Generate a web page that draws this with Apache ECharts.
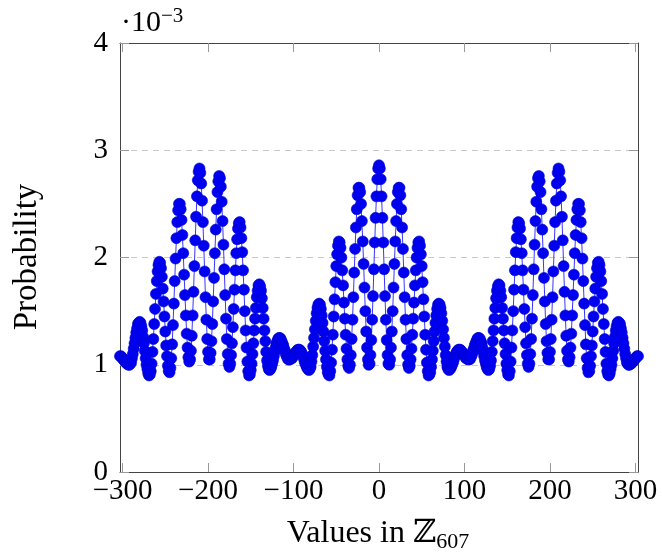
<!DOCTYPE html>
<html>
<head>
<meta charset="UTF-8">
<title>Probability over Z607</title>
<style>
html, body { margin: 0; padding: 0; background: #fff; }
#main { width: 662px; height: 557px; }
</style>
</head>
<body>
<div id="main"></div>
<script src="https://cdn.jsdelivr.net/npm/echarts@6/dist/echarts.min.js"></script>
<script>
// probabilities in units of 1e-3
// x = -303 .. -1
var probNeg = [
  1.08,1.08,1.07,1.06,1.05,1.04,1.03,1.02,1.01,1.01,1.00,1.00,1.01,
  1.02,1.06,1.10,1.15,1.20,1.25,1.30,1.34,1.38,1.39,
  1.40,1.39,1.36,1.32,1.26,1.20,1.13,1.06,1.00,0.96,0.92,0.90,
  0.91,0.94,1.01,1.12,1.24,1.38,1.52,1.66,1.78,1.87,1.93,1.96,
  1.95,1.90,1.82,1.71,1.59,1.45,1.31,1.18,1.08,0.99,0.94,0.93,
  0.97,1.06,1.19,1.37,1.57,1.78,1.99,2.18,2.33,2.44,2.50,2.50,
  2.45,2.35,2.21,2.04,1.84,1.65,1.46,1.29,1.16,1.07,1.03,
  1.05,1.13,1.27,1.46,1.68,1.92,2.16,2.38,2.57,2.72,2.80,2.83,
  2.79,2.69,2.53,2.33,2.11,1.87,1.63,1.42,1.24,1.12,1.05,
  1.05,1.11,1.22,1.38,1.59,1.81,2.04,2.26,2.45,2.61,2.71,2.76,
  2.74,2.66,2.52,2.34,2.12,1.89,1.65,1.43,1.24,1.10,1.01,
  0.98,1.01,1.09,1.20,1.35,1.52,1.70,1.88,2.04,2.17,2.27,2.32,2.33,
  2.28,2.18,2.05,1.88,1.70,1.50,1.32,1.16,1.03,0.94,0.90,
  0.91,0.95,1.01,1.10,1.20,1.32,1.43,1.53,1.63,1.69,1.74,1.75,
  1.73,1.69,1.62,1.53,1.43,1.32,1.22,1.12,1.04,0.99,0.96,
  0.95,0.96,0.98,1.01,1.04,1.08,1.12,1.16,1.20,1.22,1.24,1.25,
  1.25,1.24,1.22,1.20,1.18,1.15,1.13,1.10,1.08,1.06,1.05,1.05,
  1.05,1.06,1.06,1.07,1.09,1.10,1.11,1.12,1.13,1.14,1.14,
  1.14,1.13,1.12,1.10,1.08,1.06,1.03,1.01,0.99,0.97,0.96,0.95,
  0.96,0.98,1.03,1.09,1.17,1.25,1.33,1.41,1.48,1.53,1.56,1.57,
  1.56,1.52,1.46,1.39,1.31,1.22,1.13,1.05,0.98,0.93,0.91,
  0.90,0.94,1.02,1.14,1.28,1.45,1.61,1.77,1.92,2.03,2.11,2.15,
  2.14,2.09,2.00,1.88,1.74,1.58,1.43,1.28,1.15,1.05,0.99,
  0.97,1.00,1.09,1.24,1.42,1.63,1.86,2.08,2.28,2.45,2.58,2.65,
  2.65,2.61,2.50,2.34,2.15,1.94,1.72,1.50,1.31,1.16,1.05,1.00,
  1.01,1.09,1.23,1.42,1.64,1.89,2.14,2.37,2.57,2.73,2.83
];
// x = 0 .. 303
var probPos = [
  2.86,2.83,2.73,2.57,2.37,2.14,1.89,1.64,1.42,1.23,1.09,1.01,
  1.00,1.05,1.16,1.31,1.50,1.72,1.94,2.15,2.34,2.50,2.61,2.65,
  2.65,2.58,2.45,2.28,2.08,1.86,1.63,1.42,1.24,1.09,1.00,0.97,
  0.99,1.05,1.15,1.28,1.43,1.58,1.74,1.88,2.00,2.09,2.14,
  2.15,2.11,2.03,1.92,1.77,1.61,1.45,1.28,1.14,1.02,0.94,0.90,
  0.91,0.93,0.98,1.05,1.13,1.22,1.31,1.39,1.46,1.52,1.56,
  1.57,1.56,1.53,1.48,1.41,1.33,1.25,1.17,1.09,1.03,0.98,0.96,
  0.95,0.96,0.97,0.99,1.01,1.03,1.06,1.08,1.10,1.12,1.13,1.14,
  1.14,1.14,1.13,1.12,1.11,1.10,1.09,1.07,1.06,1.06,1.05,
  1.05,1.05,1.06,1.08,1.10,1.13,1.15,1.18,1.20,1.22,1.24,1.25,
  1.25,1.24,1.22,1.20,1.16,1.12,1.08,1.04,1.01,0.98,0.96,0.95,
  0.96,0.99,1.04,1.12,1.22,1.32,1.43,1.53,1.62,1.69,1.73,
  1.75,1.74,1.69,1.63,1.53,1.43,1.32,1.20,1.10,1.01,0.95,0.91,
  0.90,0.94,1.03,1.16,1.32,1.50,1.70,1.88,2.05,2.18,2.28,
  2.33,2.32,2.27,2.17,2.04,1.88,1.70,1.52,1.35,1.20,1.09,1.01,0.98,
  1.01,1.10,1.24,1.43,1.65,1.89,2.12,2.34,2.52,2.66,2.74,
  2.76,2.71,2.61,2.45,2.26,2.04,1.81,1.59,1.38,1.22,1.11,1.05,
  1.05,1.12,1.24,1.42,1.63,1.87,2.11,2.33,2.53,2.69,2.79,
  2.83,2.80,2.72,2.57,2.38,2.16,1.92,1.68,1.46,1.27,1.13,1.05,
  1.03,1.07,1.16,1.29,1.46,1.65,1.84,2.04,2.21,2.35,2.45,
  2.50,2.50,2.44,2.33,2.18,1.99,1.78,1.57,1.37,1.19,1.06,0.97,
  0.93,0.94,0.99,1.08,1.18,1.31,1.45,1.59,1.71,1.82,1.90,1.95,
  1.96,1.93,1.87,1.78,1.66,1.52,1.38,1.24,1.12,1.01,0.94,0.91,
  0.90,0.92,0.96,1.00,1.06,1.13,1.20,1.26,1.32,1.36,1.39,1.40,
  1.39,1.38,1.34,1.30,1.25,1.20,1.15,1.10,1.06,1.02,1.01,
  1.00,1.00,1.01,1.01,1.02,1.03,1.04,1.05,1.06,1.07,1.08,1.08
];
var xTicks = [-300, -200, -100, 0, 100, 200, 300];
var xMin = -303, xMax = 303;
var yMin = 0, yMax = 4;

var points = [];
probNeg.concat(probPos).forEach(function (v, i) {
  points.push([xMin + i, v]);
});

var serif = '"Liberation Serif", "DejaVu Serif", serif';
var fmtX = function (v) { return v < 0 ? '\u2212' + (-v) : String(v); };

var myChart = echarts.init(document.getElementById('main'), null, { renderer: 'canvas' });
var option = {
  animation: false,
  backgroundColor: '#fff',
  grid: { left: 120, right: 24, top: 43, bottom: 85 },
  xAxis: [{
    type: 'value', min: xMin, max: xMax, position: 'bottom',
    axisLine: { show: true, onZero: false, lineStyle: { color: '#444', width: 1 } },
    axisTick: { show: true, inside: true, length: 9, customValues: xTicks, lineStyle: { color: '#999' } },
    axisLabel: { customValues: xTicks, formatter: fmtX, color: '#000', fontFamily: serif, fontSize: 29, margin: 5 },
    splitLine: { show: false }
  }, {
    type: 'value', min: xMin, max: xMax, position: 'top',
    axisLine: { show: true, onZero: false, lineStyle: { color: '#444', width: 1 } },
    axisTick: { show: true, inside: true, length: 9, customValues: xTicks, lineStyle: { color: '#999' } },
    axisLabel: { show: false },
    splitLine: { show: false }
  }],
  yAxis: [{
    type: 'value', min: yMin, max: yMax, interval: 1, position: 'left',
    axisLine: { show: true, onZero: false, lineStyle: { color: '#444', width: 1 } },
    axisTick: { show: true, inside: true, length: 9, lineStyle: { color: '#999' } },
    axisLabel: { color: '#000', fontFamily: serif, fontSize: 29, margin: 12 },
    splitLine: { show: true, lineStyle: { color: '#c8c8c8', type: [6, 5], width: 1 } }
  }, {
    type: 'value', min: yMin, max: yMax, interval: 1, position: 'right',
    axisLine: { show: true, onZero: false, lineStyle: { color: '#444', width: 1 } },
    axisTick: { show: true, inside: true, length: 9, lineStyle: { color: '#999' } },
    axisLabel: { show: false },
    splitLine: { show: false }
  }],
  graphic: [{
    type: 'text', left: 121, top: 6,
    style: {
      text: '\u00b710{sup|\u22123}',
      font: '30px ' + serif, fill: '#000',
      rich: { sup: { fontSize: 21, fontFamily: serif, verticalAlign: 'top', padding: [0, 0, 13, 0] } }
    }
  }, {
    type: 'text', x: 27, y: 257, rotation: Math.PI / 2,
    style: { text: 'Probability', font: '33px ' + serif, fill: '#000', align: 'center', verticalAlign: 'middle' }
  }, {
    type: 'text', x: 378, y: 534,
    style: {
      text: 'Values in \u2124{sub|607}',
      font: '32px ' + serif, fill: '#000', align: 'center', verticalAlign: 'middle',
      rich: { sub: { fontSize: 22, fontFamily: serif, padding: [16, 0, 0, 0] } }
    }
  }],
  series: [{
    type: 'line',
    data: points,
    symbol: 'circle',
    symbolSize: 11,
    showSymbol: true,
    showAllSymbol: true,
    itemStyle: { color: '#0000f0', borderColor: '#0000d0', borderWidth: 0.6 },
    lineStyle: { color: '#2020ff', width: 0.9 }
  }]
};
myChart.setOption(option);
</script>
</body>
</html>
